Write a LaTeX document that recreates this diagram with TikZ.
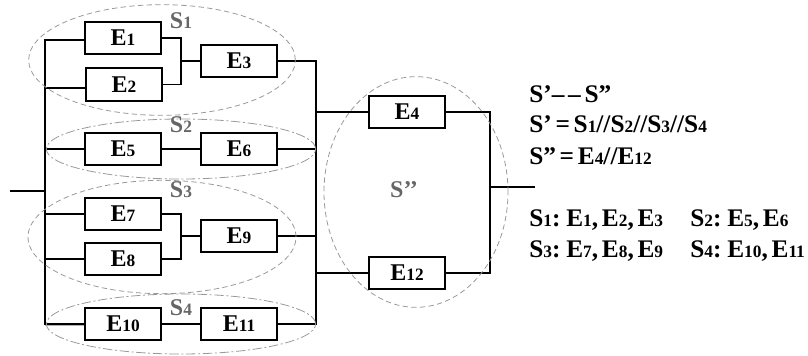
\documentclass[tikz,border=0pt]{standalone}
\usepackage{fontspec}
\usetikzlibrary{shapes.geometric}
\setmainfont{Liberation Serif}
\newcommand{\dg}[1]{{\fontsize{13}{13}\selectfont #1}}
\newcommand{\nt}[1]{{\fontsize{19}{19}\selectfont\bfseries\spaceskip=2.8pt\relax #1}}
\tikzset{
  ebox/.style={draw=black,fill=white,line width=1.3pt,minimum width=57pt,minimum height=24.5pt,inner sep=0pt,font=\fontsize{18}{18}\selectfont\bfseries},
  wire/.style={line width=1.3pt,draw=black},
  shadowwire/.style={line width=1pt,draw=black!30},
  grp/.style={draw=black!40,line width=0.6pt,shape=ellipse,inner sep=0pt,dash pattern=on 4pt off 2.5pt},
  grpdd/.style={draw=black!40,line width=0.6pt,shape=ellipse,inner sep=0pt,dash pattern=on 7pt off 2pt on 1.5pt off 2pt},
  glabel/.style={text=black!60,font=\fontsize{18}{18}\selectfont\bfseries,inner sep=0pt},
  note/.style={anchor=base west,inner sep=0pt}
}
\begin{document}
\begin{tikzpicture}[x=0.75pt,y=-0.75pt]
\useasboundingbox (0,0) rectangle (808,356);
% boxes
\node[ebox] (E1) at (123,38) {E\dg{1}};
\node[ebox] (E2) at (124,84.5) {E\dg{2}};
\node[ebox] (E3) at (239,61) {E\dg{3}};
\node[ebox] (E5) at (123,149) {E\dg{5}};
\node[ebox] (E6) at (239,149) {E\dg{6}};
\node[ebox] (E7) at (123,214) {E\dg{7}};
\node[ebox] (E8) at (123,259) {E\dg{8}};
\node[ebox] (E9) at (239,236) {E\dg{9}};
\node[ebox] (E10) at (123,324) {E\dg{10}};
\node[ebox] (E11) at (239,324) {E\dg{11}};
\node[ebox] (E4) at (407,112) {E\dg{4}};
\node[ebox] (E12) at (407,273) {E\dg{12}};
% junctions
\coordinate (in) at (10,191);
\coordinate (busL) at (45,191);
\coordinate (busR) at (316,112);
\coordinate (m1) at (181,61);
\coordinate (m3) at (181,236);
\coordinate (merge) at (490,187);
\coordinate (out) at (535,187);
% wires
\draw[shadowwire] ([yshift=-1.3pt]E10.west) -- ([yshift=-1.3pt]E10.west -| busL);
\draw[wire] (in) -- (busL);
\draw[wire] ([yshift=-1.5pt]E1.west) -| (busL) |- (E10.west);
\draw[wire] ([yshift=-2.4pt]E2.west) -- ([yshift=-2.4pt]E2.west -| busL);
\draw[wire] (E5.west) -- (E5.west -| busL);
\draw[wire] (E7.west) -- (E7.west -| busL);
\draw[wire] (E8.west) -- (E8.west -| busL);
\draw[wire] (E1.east) -| (m1) (E2.east) -| (m1) (m1) -- (E3.west);
\draw[wire] (E7.east) -| (m3) (E8.east) -| (m3) (m3) -- (E9.west);
\draw[wire] (E5.east) -- (E6.west);
\draw[wire] (E10.east) -- (E11.west);
\draw[wire] (E3.east) -| (busR) |- (E11.east);
\draw[wire] (E6.east) -- (E6.east -| busR);
\draw[wire] (E9.east) -- (E9.east -| busR);
\draw[wire] (busR) -- (E4.west);
\draw[wire] (E12.west) -- (E12.west -| busR);
\draw[wire] (E4.east) -| (merge) |- (E12.east);
\draw[wire] (merge) -- (out);
% groups
\node[grp,minimum width=200pt,minimum height=83pt] (G1) at (162,60) {};
\node[grpdd,minimum width=202pt,minimum height=45pt] (G2) at (181,149) {};
\node[grp,minimum width=201pt,minimum height=85pt] (G3) at (162,237) {};
\node[grpdd,minimum width=202pt,minimum height=45pt] (G4) at (181,324) {};
\node[grp,minimum width=138pt,minimum height=173pt] (G5) at (416,192) {};
% group labels
\node[glabel] (L1) at (181,21) {S\dg{1}};
\node[glabel] (L2) at (181,125) {S\dg{2}};
\node[glabel] (L3) at (181,190) {S\dg{3}};
\node[glabel] (L4) at (181,308) {S\dg{4}};
\node[glabel] (L5) at (404,190) {S’’};
% notes
\node[note] (N1) at (529,103) {\nt{S’– – S”}};
\node[note] (N2) at (529,133) {\nt{S’ = S\dg{1}//S\dg{2}//S\dg{3}//S\dg{4}}};
\node[note] (N3) at (529,165) {\nt{S” = E\dg{4}//E\dg{12}}};
\node[note] (N4) at (529,227) {\nt{S\dg{1}: E\dg{1}, E\dg{2}, E\dg{3}}};
\node[note] (N5) at (690,227) {\nt{S\dg{2}: E\dg{5}, E\dg{6}}};
\node[note] (N6) at (529,258) {\nt{S\dg{3}: E\dg{7}, E\dg{8}, E\dg{9}}};
\node[note] (N7) at (690,258) {\nt{S\dg{4}: E\dg{10}, E\dg{11}}};
\end{tikzpicture}
\end{document}
